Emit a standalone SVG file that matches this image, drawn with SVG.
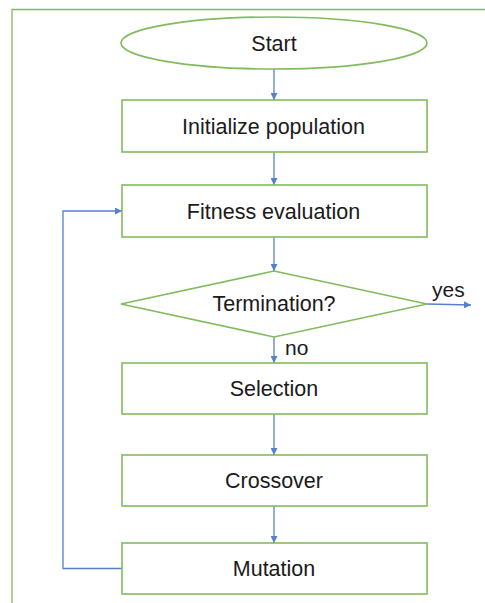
<svg xmlns="http://www.w3.org/2000/svg" width="485" height="603" viewBox="0 0 485 603">
  <defs>
    <style>
      .shape { fill: #ffffff; stroke: #82bb5c; stroke-width: 1.6; }
      .frame { fill: none; stroke: #82bb5c; stroke-width: 1.3; }
      .link { fill: none; stroke: #5680cc; stroke-width: 1.3; }
      .label { font-family: "Liberation Sans", Arial, sans-serif; font-size: 21.5px; fill: #1a1a1a; text-anchor: middle; }
      .tag { font-family: "Liberation Sans", Arial, sans-serif; font-size: 21px; fill: #1a1a1a; }
    </style>
    <marker id="arrow" viewBox="0 0 10 10" refX="10" refY="5" markerWidth="7" markerHeight="7" markerUnits="userSpaceOnUse" orient="auto">
      <path d="M0,0 L10,5 L0,10 z" fill="#5680cc"/>
    </marker>
  </defs>

  <!-- surrounding frame -->
  <path class="frame" d="M12,603 V9.5 H485"/>

  <!-- connectors -->
  <g id="connectors">
    <line class="link" x1="274" y1="69" x2="274" y2="100" marker-end="url(#arrow)"/>
    <line class="link" x1="274" y1="152" x2="274" y2="185" marker-end="url(#arrow)"/>
    <line class="link" x1="274" y1="237" x2="274" y2="271" marker-end="url(#arrow)"/>
    <line class="link" x1="427" y1="304" x2="471" y2="305" marker-end="url(#arrow)"/>
    <line class="link" x1="274" y1="337" x2="274" y2="363" marker-end="url(#arrow)"/>
    <line class="link" x1="274" y1="414" x2="274" y2="455" marker-end="url(#arrow)"/>
    <line class="link" x1="274" y1="506" x2="274" y2="543" marker-end="url(#arrow)"/>
    <path class="link" d="M122,568.5 H63 V211 H122" marker-end="url(#arrow)"/>
    <text class="tag" x="432" y="297">yes</text>
    <text class="tag" x="285" y="355">no</text>
  </g>

  <g id="start">
    <ellipse class="shape" cx="274" cy="43" rx="153" ry="26"/>
    <text class="label" x="274" y="51">Start</text>
  </g>

  <g id="initialize">
    <rect class="shape" x="122" y="100" width="305" height="52"/>
    <text class="label" x="273.5" y="134">Initialize population</text>
  </g>

  <g id="fitness">
    <rect class="shape" x="122" y="185" width="305" height="52"/>
    <text class="label" x="273.5" y="219">Fitness evaluation</text>
  </g>

  <g id="termination">
    <polygon class="shape" points="274,271 427,304 274,337 121,304"/>
    <text class="label" x="274" y="311">Termination?</text>
  </g>

  <g id="selection">
    <rect class="shape" x="122" y="363" width="305" height="51"/>
    <text class="label" x="274" y="396">Selection</text>
  </g>

  <g id="crossover">
    <rect class="shape" x="122" y="455" width="305" height="51"/>
    <text class="label" x="274" y="488">Crossover</text>
  </g>

  <g id="mutation">
    <rect class="shape" x="122" y="543" width="305" height="51"/>
    <text class="label" x="274" y="576">Mutation</text>
  </g>
</svg>
